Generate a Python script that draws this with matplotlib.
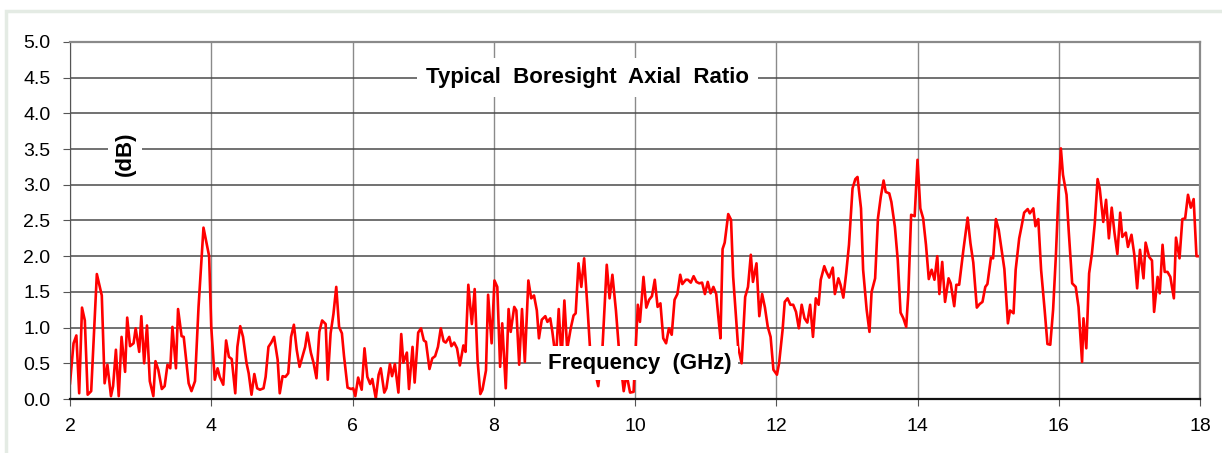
import matplotlib
matplotlib.use("Agg")
import matplotlib.pyplot as plt
from matplotlib.patches import Rectangle

plt.rcParams['font.family'] = ['Liberation Sans', 'DejaVu Sans']

# boresight axial ratio
freq_ghz = [
    2.00, 2.05, 2.09, 2.13, 2.17, 2.21, 2.25, 2.30, 2.38, 2.45, 2.49, 2.53, 2.58, 2.61, 2.65, 2.69,
    2.73, 2.78, 2.81, 2.85, 2.90, 2.93, 2.98, 3.01, 3.05, 3.09, 3.13, 3.18, 3.21, 3.25, 3.30, 3.34,
    3.38, 3.42, 3.45, 3.50, 3.53, 3.58, 3.61, 3.68, 3.72, 3.77, 3.82, 3.89, 3.97,
    4.00, 4.05, 4.09, 4.12, 4.17, 4.21, 4.25, 4.29, 4.34, 4.37, 4.41, 4.45, 4.50, 4.53, 4.57, 4.61,
    4.65, 4.69, 4.74, 4.77, 4.81, 4.85, 4.89, 4.94, 4.97, 5.01, 5.05, 5.09, 5.13, 5.17, 5.21, 5.25,
    5.29, 5.33, 5.36, 5.41, 5.45, 5.49, 5.53, 5.57, 5.62, 5.65, 5.69, 5.73, 5.77, 5.81, 5.85, 5.88,
    5.93, 5.98, 6.01, 6.04, 6.08, 6.13, 6.17, 6.21, 6.25, 6.28, 6.33, 6.37, 6.40, 6.45, 6.48, 6.53,
    6.56, 6.60, 6.65, 6.69, 6.72, 6.77, 6.80, 6.85, 6.88, 6.93, 6.97, 7.01, 7.04, 7.09, 7.13, 7.17,
    7.21, 7.25, 7.29, 7.32, 7.37, 7.40, 7.44, 7.48, 7.52, 7.57, 7.60, 7.64, 7.69, 7.73, 7.77, 7.81,
    7.84, 7.89, 7.92, 7.97, 8.01, 8.05, 8.09, 8.12, 8.17, 8.21, 8.24, 8.29, 8.32, 8.36, 8.40, 8.44,
    8.49, 8.53, 8.57, 8.61, 8.64, 8.68, 8.73, 8.76, 8.80, 8.83, 8.88, 8.92, 8.96, 9.00, 9.04, 9.09,
    9.13, 9.16, 9.20, 9.24, 9.28, 9.33, 9.37, 9.43, 9.48, 9.54, 9.60, 9.64, 9.68, 9.73, 9.77, 9.84,
    9.88, 9.93, 9.98, 10.04, 10.07, 10.12, 10.16, 10.20, 10.24, 10.28, 10.32, 10.36, 10.40, 10.44,
    10.48, 10.52, 10.56, 10.60, 10.64, 10.67, 10.72, 10.75, 10.79, 10.83, 10.87, 10.91, 10.95, 10.99,
    11.03, 11.07, 11.11, 11.15, 11.18, 11.21, 11.24, 11.27, 11.32, 11.36, 11.39, 11.42, 11.46, 11.51,
    11.56, 11.60, 11.64, 11.67, 11.72, 11.76, 11.80, 11.84, 11.88, 11.92, 11.96, 12.01, 12.04, 12.09,
    12.12, 12.16, 12.20, 12.24, 12.28, 12.32, 12.36, 12.40, 12.44, 12.48, 12.52, 12.56, 12.60, 12.63,
    12.68, 12.71, 12.75, 12.80, 12.83, 12.88, 12.91, 12.95, 12.99, 13.03, 13.08, 13.12, 13.15, 13.20,
    13.23, 13.28, 13.32, 13.35, 13.40, 13.44, 13.48, 13.52, 13.55, 13.60, 13.63, 13.68, 13.72, 13.76,
    13.80, 13.84, 13.87, 13.91, 13.96, 14.00, 14.04, 14.08, 14.12, 14.16, 14.20, 14.24, 14.28, 14.31,
    14.35, 14.39, 14.44, 14.47, 14.52, 14.55, 14.59, 14.65, 14.71, 14.75, 14.79, 14.84, 14.88, 14.92,
    14.96, 14.99, 15.04, 15.07, 15.11, 15.15, 15.19, 15.23, 15.28, 15.31, 15.36, 15.39, 15.44, 15.47,
    15.51, 15.56, 15.59, 15.64, 15.67, 15.71, 15.75, 15.80, 15.84, 15.88, 15.92, 15.96, 15.99, 16.03,
    16.06, 16.11, 16.14, 16.19, 16.24, 16.28, 16.33, 16.35, 16.39, 16.43, 16.47, 16.51, 16.55, 16.58,
    16.63, 16.67, 16.71, 16.75, 16.79, 16.83, 16.87, 16.90, 16.95, 16.98, 17.03, 17.07, 17.11, 17.15,
    17.20, 17.23, 17.28, 17.32, 17.35, 17.40, 17.43, 17.47, 17.50, 17.54, 17.58, 17.63, 17.66, 17.71,
    17.75, 17.79, 17.83, 17.87, 17.91, 17.95, 18.00,
]
axial_ratio_db = [
    0.22, 0.78, 0.89, 0.08, 1.28, 1.10, 0.06, 0.11, 1.75, 1.45, 0.22, 0.48, 0.04, 0.18, 0.69, 0.04,
    0.87, 0.38, 1.14, 0.74, 0.78, 0.99, 0.66, 1.16, 0.50, 1.03, 0.25, 0.04, 0.53, 0.41, 0.14, 0.18,
    0.48, 0.43, 1.01, 0.43, 1.26, 0.88, 0.87, 0.22, 0.11, 0.25, 1.29, 2.40, 2.00,
    1.01, 0.27, 0.43, 0.31, 0.20, 0.82, 0.59, 0.56, 0.08, 0.73, 1.02, 0.87, 0.50, 0.36, 0.06, 0.35,
    0.15, 0.13, 0.15, 0.31, 0.73, 0.79, 0.87, 0.55, 0.08, 0.32, 0.31, 0.36, 0.87, 1.04, 0.69, 0.45,
    0.59, 0.73, 0.93, 0.65, 0.50, 0.29, 0.94, 1.10, 1.05, 0.27, 0.92, 1.19, 1.57, 1.01, 0.92, 0.60,
    0.16, 0.14, 0.15, 0.04, 0.30, 0.13, 0.71, 0.31, 0.21, 0.28, 0.01, 0.34, 0.43, 0.09, 0.15, 0.49,
    0.32, 0.49, 0.09, 0.91, 0.51, 0.65, 0.14, 0.73, 0.23, 0.93, 0.99, 0.82, 0.80, 0.42, 0.57, 0.60,
    0.73, 0.99, 0.81, 0.79, 0.87, 0.74, 0.79, 0.71, 0.47, 0.75, 0.66, 1.60, 1.05, 1.54, 0.55, 0.07,
    0.13, 0.40, 1.46, 0.78, 1.66, 1.57, 0.45, 1.06, 0.15, 1.26, 0.94, 1.29, 1.24, 0.48, 1.26, 0.52,
    1.66, 1.41, 1.45, 1.24, 0.85, 1.11, 1.16, 1.08, 1.13, 0.94, 0.55, 1.26, 0.55, 1.38, 0.70, 0.99,
    1.17, 1.20, 1.90, 1.57, 1.97, 1.24, 0.60, 0.40, 0.18, 0.73, 1.88, 1.41, 1.74, 1.24, 0.73, 0.11,
    0.35, 0.09, 0.10, 1.32, 1.08, 1.71, 1.28, 1.39, 1.44, 1.67, 1.29, 1.34, 0.85, 0.78,
    0.99, 0.90, 1.39, 1.47, 1.74, 1.61, 1.67, 1.67, 1.63, 1.72, 1.64, 1.62, 1.63, 1.47,
    1.64, 1.48, 1.57, 1.47, 1.15, 0.85, 2.10, 2.19, 2.59, 2.51, 1.71, 1.29, 0.73, 0.50,
    1.43, 1.57, 2.02, 1.64, 1.90, 1.16, 1.47, 1.28, 1.01, 0.87, 0.41, 0.34, 0.50, 0.97,
    1.36, 1.41, 1.32, 1.32, 1.22, 0.99, 1.32, 1.13, 1.07, 1.32, 0.87, 1.41, 1.32, 1.67,
    1.86, 1.78, 1.70, 1.84, 1.47, 1.69, 1.60, 1.42, 1.76, 2.16, 2.95, 3.08, 3.11, 2.67,
    1.81, 1.25, 0.94, 1.50, 1.69, 2.53, 2.83, 3.06, 2.90, 2.88, 2.76, 2.41, 1.95, 1.21,
    1.13, 1.01, 1.48, 2.58, 2.56, 3.35, 2.67, 2.53, 2.16, 1.68, 1.81, 1.67, 2.00, 1.47,
    1.92, 1.36, 1.69, 1.62, 1.30, 1.60, 1.60, 2.09, 2.54, 2.18, 1.91, 1.28, 1.33, 1.36,
    1.57, 1.61, 1.98, 1.97, 2.52, 2.37, 2.09, 1.82, 1.06, 1.24, 1.20, 1.81, 2.25, 2.40,
    2.61, 2.66, 2.60, 2.67, 2.42, 2.52, 1.81, 1.25, 0.77, 0.76, 1.25, 2.02, 2.74, 3.51,
    3.14, 2.86, 2.37, 1.62, 1.57, 1.29, 0.52, 1.13, 0.71, 1.76, 2.04, 2.46, 3.08, 2.95,
    2.48, 2.79, 2.25, 2.68, 2.32, 2.03, 2.61, 2.27, 2.33, 2.13, 2.30, 2.02, 1.55, 2.09,
    1.69, 2.19, 1.99, 1.94, 1.22, 1.71, 1.48, 2.16, 1.78, 1.78, 1.71, 1.41, 2.26, 1.97,
    2.52, 2.53, 2.86, 2.68, 2.80, 2.00, 2.00,
]

x_ticks = [2, 4, 6, 8, 10, 12, 14, 16, 18]
y_ticks = [0.0, 0.5, 1.0, 1.5, 2.0, 2.5, 3.0, 3.5, 4.0, 4.5, 5.0]

fig = plt.figure(figsize=(12.22, 4.53), dpi=100)
fig.patch.set_facecolor('white')
# faint frame round the whole chart
fig.patches.append(Rectangle((6 / 1222, -0.05), 1.1, 1 - 11 / 453 + 0.05,
                             transform=fig.transFigure, fill=False,
                             edgecolor='#e4ebe4', lw=2.5))

ax = fig.add_axes([70 / 1222, 1 - 399 / 453, 1130 / 1222, 357 / 453])
ax.plot(freq_ghz, axial_ratio_db, color='#ff0000', lw=1.9, zorder=2)

ax.set_xlim(2, 18)
ax.set_ylim(0, 5)
ax.set_xticks(x_ticks)
ax.set_yticks(y_ticks)
ax.set_yticklabels([f'{v:.1f}' for v in y_ticks])
ax.tick_params(axis='both', labelsize=14, length=5, color='#555555')
ax.tick_params(axis='y', pad=9)
ax.tick_params(axis='x', pad=9)

ax.grid(axis='y', color='#4a4a4a', lw=1.1, zorder=1)
ax.grid(axis='x', color='#8a8a8a', lw=1.0, zorder=1)
ax.set_axisbelow(True)

ax.spines['bottom'].set_color('#111111')
ax.spines['bottom'].set_linewidth(1.6)
ax.spines['left'].set_color('#555555')
ax.spines['top'].set_color('#8a8a8a')
ax.spines['top'].set_linewidth(1.6)
ax.spines['right'].set_color('#8a8a8a')
ax.spines['right'].set_linewidth(1.6)

box = dict(boxstyle='square,pad=0.4', facecolor='white', edgecolor='none')
ax.text(9.33, 4.5, 'Typical  Boresight  Axial  Ratio', ha='center', va='center',
        fontsize=16, fontweight='bold', bbox=box, zorder=4)
ax.text(10.07, 0.5, 'Frequency  (GHz)', ha='center', va='center',
        fontsize=16, fontweight='bold', bbox=dict(box, boxstyle='square,pad=0.3'), zorder=4)
ax.text(2.78, 3.43, '(dB)', ha='center', va='center', rotation=90,
        fontsize=16, fontweight='bold', bbox=dict(box, boxstyle='square,pad=0.3'), zorder=4)

fig.savefig('out.png', dpi=100)
